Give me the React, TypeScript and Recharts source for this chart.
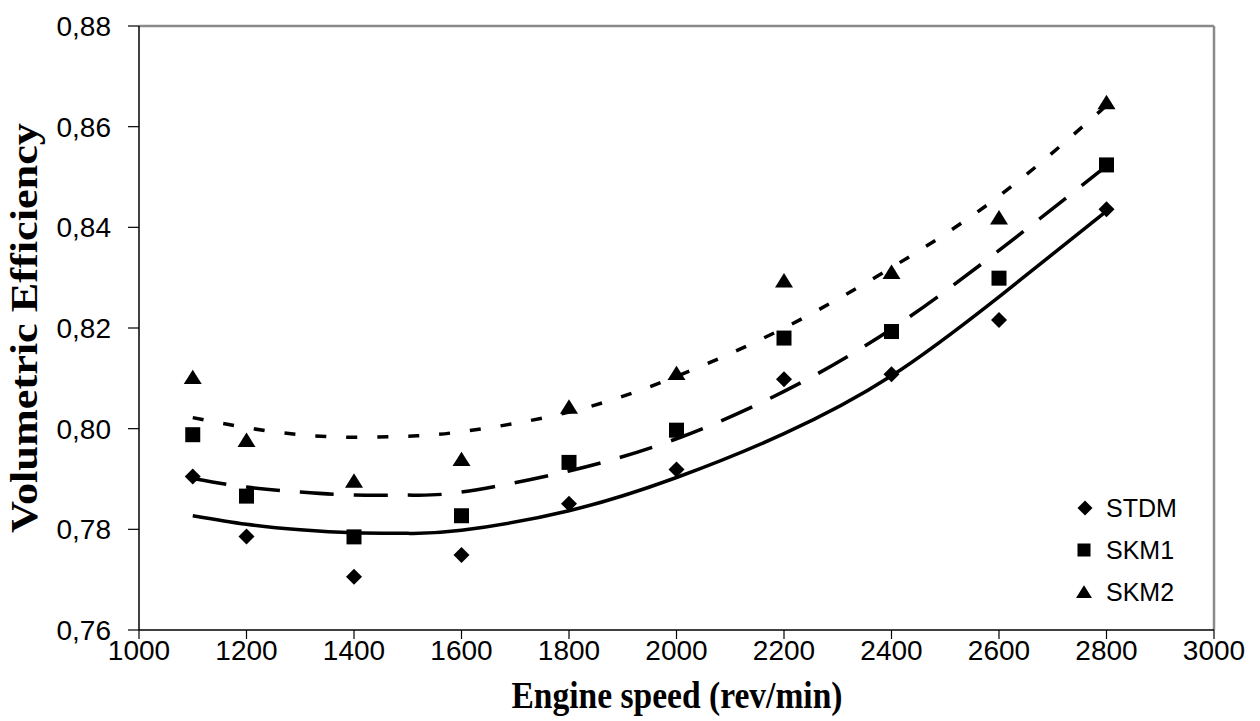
import {
  ComposedChart,
  Label,
  Line,
  ReferenceLine,
  Scatter,
  XAxis,
  YAxis,
} from "recharts";

// measured points (engine speed, volumetric efficiency)
const SPEEDS = [1100, 1200, 1400, 1600, 1800, 2000, 2200, 2400, 2600, 2800];
const STDM = [0.7905, 0.7786, 0.7706, 0.7749, 0.7851, 0.7919, 0.8098, 0.8108, 0.8216, 0.8436];
const SKM1 = [0.7988, 0.7866, 0.7785, 0.7827, 0.7933, 0.7997, 0.818, 0.8193, 0.8299, 0.8524];
const SKM2 = [0.8102, 0.7977, 0.7896, 0.7939, 0.8043, 0.811, 0.8294, 0.8311, 0.8419, 0.8648];

// trend curves
const TREND_X = [1100, 1200, 1300, 1400, 1500, 1600, 1800, 2000, 2200, 2400, 2600, 2800];
const STDM_TREND = [0.7827, 0.781, 0.7799, 0.7793, 0.7792, 0.7798, 0.7837, 0.7903, 0.799, 0.8105, 0.8262, 0.8432];
const SKM1_TREND = [0.7901, 0.7884, 0.7874, 0.7868, 0.7868, 0.7874, 0.7916, 0.798, 0.8074, 0.8198, 0.8354, 0.8522];
const SKM2_TREND = [0.8022, 0.8002, 0.7988, 0.7983, 0.7985, 0.7994, 0.8033, 0.8104, 0.82, 0.832, 0.8462, 0.8642];

const X_TICKS = [1000, 1200, 1400, 1600, 1800, 2000, 2200, 2400, 2600, 2800, 3000];
const Y_TICKS = [0.76, 0.78, 0.8, 0.82, 0.84, 0.86, 0.88];

const LEGEND_ITEMS = ["STDM", "SKM1", "SKM2"];

const points = (ys: number[]) => SPEEDS.map((x, i) => ({ x, y: ys[i] }));
const trend = (ys: number[]) => TREND_X.map((x, i) => ({ x, y: ys[i] }));

const SANS = "'Liberation Sans', Arial, sans-serif";
const SERIF = "'Liberation Serif', 'Times New Roman', serif";

function Diamond({ cx, cy, r = 8 }: any) {
  return <path d={`M${cx},${cy - r}L${cx + r},${cy}L${cx},${cy + r}L${cx - r},${cy}Z`} fill="#000" />;
}
function Square({ cx, cy, r = 7.5 }: any) {
  return <rect x={cx - r} y={cy - r} width={r * 2} height={r * 2} fill="#000" />;
}
function Triangle({ cx, cy, r = 9 }: any) {
  return (
    <path
      d={`M${cx},${cy - r * 0.85}L${cx + r},${cy + r * 0.75}L${cx - r},${cy + r * 0.75}Z`}
      fill="#000"
    />
  );
}

const XTick = ({ x, y, payload }: any) => (
  <text x={x} y={y} dy="0.71em" textAnchor="middle" fontSize={28} fontFamily={SANS} fill="#000">
    {payload.value}
  </text>
);

const YTick = ({ x, y, payload }: any) => (
  <text x={x} y={y} dy="0.36em" textAnchor="end" fontSize={28} fontFamily={SANS} fill="#000">
    {payload.value.toFixed(2).replace(".", ",")}
  </text>
);

const YTitle = () => (
  <text
    x={37}
    y={328}
    transform="rotate(-90, 37, 328)"
    textAnchor="middle"
    fontFamily={SERIF}
    fontWeight="bold"
    fontSize={37}
    textLength={410}
    lengthAdjust="spacingAndGlyphs"
    fill="#000"
  >
    Volumetric Efficiency
  </text>
);

const XTitle = () => (
  <text
    x={677}
    y={708}
    textAnchor="middle"
    fontFamily={SERIF}
    fontWeight="bold"
    fontSize={37}
    textLength={331}
    lengthAdjust="spacingAndGlyphs"
    fill="#000"
  >
    Engine speed (rev/min)
  </text>
);

// legend drawn as an overlay so it does not take room from the plot
const LegendBox = () => (
  <svg
    width={150}
    height={130}
    style={{ position: "absolute", left: 1070, top: 488, overflow: "visible" }}
  >
    {LEGEND_ITEMS.map((name, i) => {
      const cy = 20 + i * 42;
      return (
        <g key={name}>
          {i === 0 && <Diamond cx={15} cy={cy} r={7.5} />}
          {i === 1 && <Square cx={14} cy={cy} r={6.5} />}
          {i === 2 && <Triangle cx={14} cy={cy} r={8} />}
          <text x={36} y={cy} dy="0.36em" fontFamily={SANS} fontSize={25} fill="#000">
            {name}
          </text>
        </g>
      );
    })}
  </svg>
);

export default function App() {
  return (
    <div style={{ position: "absolute", left: 0, top: 0, width: 1260, height: 721, background: "#fff" }}>
      <ComposedChart width={1260} height={721} margin={{ top: 26, right: 46, bottom: 0, left: 0 }}>
        <XAxis
          type="number"
          dataKey="x"
          domain={[1000, 3000]}
          ticks={X_TICKS}
          height={91}
          tickSize={9}
          tickMargin={1}
          tick={<XTick />}
          axisLine={{ stroke: "#000", strokeWidth: 1.5 }}
          tickLine={{ stroke: "#000", strokeWidth: 1.2 }}
          allowDataOverflow
        >
          <Label content={<XTitle />} />
        </XAxis>
        <YAxis
          type="number"
          dataKey="y"
          domain={[0.76, 0.88]}
          ticks={Y_TICKS}
          width={139}
          tickSize={11}
          tickMargin={17}
          tick={<YTick />}
          axisLine={{ stroke: "#000", strokeWidth: 1.5 }}
          tickLine={{ stroke: "#000", strokeWidth: 1.2 }}
          allowDataOverflow
        >
          <Label content={<YTitle />} />
        </YAxis>
        <ReferenceLine y={0.88} stroke="#8a8a8a" strokeWidth={2.5} />
        <ReferenceLine x={3000} stroke="#8a8a8a" strokeWidth={2.5} />
        <Line
          data={trend(STDM_TREND)}
          dataKey="y"
          type="natural"
          stroke="#000"
          strokeWidth={3.5}
          dot={false}
          activeDot={false}
          legendType="none"
          isAnimationActive={false}
        />
        <Line
          data={trend(SKM1_TREND)}
          dataKey="y"
          type="natural"
          stroke="#000"
          strokeWidth={3.5}
          strokeDasharray="34 20"
          dot={false}
          activeDot={false}
          legendType="none"
          isAnimationActive={false}
        />
        <Line
          data={trend(SKM2_TREND)}
          dataKey="y"
          type="natural"
          stroke="#000"
          strokeWidth={3.5}
          strokeDasharray="11 20"
          dot={false}
          activeDot={false}
          legendType="none"
          isAnimationActive={false}
        />
        <Scatter name="STDM" data={points(STDM)} shape={(p: any) => <Diamond cx={p.cx} cy={p.cy} />} isAnimationActive={false} />
        <Scatter name="SKM1" data={points(SKM1)} shape={(p: any) => <Square cx={p.cx} cy={p.cy} />} isAnimationActive={false} />
        <Scatter name="SKM2" data={points(SKM2)} shape={(p: any) => <Triangle cx={p.cx} cy={p.cy} />} isAnimationActive={false} />
      </ComposedChart>
      <LegendBox />
    </div>
  );
}
